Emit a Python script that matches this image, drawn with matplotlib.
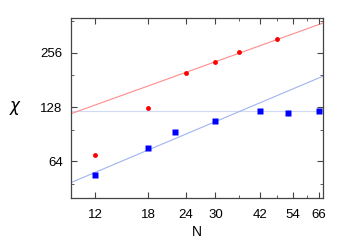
import numpy as np
import matplotlib.pyplot as plt
from matplotlib.ticker import FixedLocator, NullFormatter

plt.rcParams['font.family'] = ['Liberation Sans', 'DejaVu Sans']

# red series (circles)
n_red = [12, 18, 24, 30, 36, 48]
chi_red = [69, 126, 199, 229, 259, 304]

# blue series (squares)
n_blue = [12, 18, 22, 30, 42, 52, 66]
chi_blue = [54, 75.5, 93.4, 107, 121.5, 119, 122]
err_blue = [0, 0, 0, 0, 1.5, 4.5, 3.5]

# power-law fits chi = a * N^b
red_fit = (29.2, 0.605)
blue_fit = (9.5, 0.71)
plateau = 122

xticks = [12, 18, 24, 30, 42, 54, 66]
xminor = [36, 48, 60]
yticks = [64, 128, 256]
yminor = [48, 96, 192, 384]

fig = plt.figure(figsize=(3.5, 2.45), dpi=100)
ax = fig.add_axes([71/350, 47/245, 252/350, 180/245])

nn = np.array([10, 68])
ax.plot(nn, red_fit[0] * nn ** red_fit[1], color='#ff8c8c', lw=0.8, zorder=1)
ax.plot(nn, blue_fit[0] * nn ** blue_fit[1], color='#9fb4f0', lw=0.8, zorder=1)
ax.axhline(plateau, color='#d0daf5', lw=0.8, zorder=0)

ax.plot(n_red, chi_red, 'o', color='#ff0000', ms=3.5, mec='none', zorder=3)
ax.errorbar(n_blue, chi_blue, yerr=err_blue, fmt='s', color='#0000ff', ms=3.8,
            mec='none', ecolor='#a0b0ff', elinewidth=1, capsize=0, zorder=3)

ax.set_xscale('log')
ax.set_yscale('log')
ax.set_xlim(10, 68)
ax.set_ylim(40, 400)

ax.xaxis.set_major_locator(FixedLocator(xticks))
ax.xaxis.set_minor_locator(FixedLocator(xminor))
ax.set_xticklabels([str(t) for t in xticks])
ax.xaxis.set_minor_formatter(NullFormatter())
ax.yaxis.set_major_locator(FixedLocator(yticks))
ax.yaxis.set_minor_locator(FixedLocator(yminor))
ax.set_yticklabels([str(t) for t in yticks])
ax.yaxis.set_minor_formatter(NullFormatter())

ax.tick_params(which='both', direction='in', top=True, right=True,
               labelsize=9.5, color='#444444')
ax.tick_params(axis='x', pad=8)
ax.tick_params(axis='y', pad=6)
ax.tick_params(which='major', length=4)
ax.tick_params(which='minor', length=2.5)
for s in ax.spines.values():
    s.set_color('#444444')
    s.set_linewidth(0.9)

ax.set_xlabel('N', fontsize=10, labelpad=3)
ax.set_ylabel(r'$\chi$', fontsize=12, rotation=0, labelpad=18, va='center')

fig.savefig('out.png', dpi=100)
